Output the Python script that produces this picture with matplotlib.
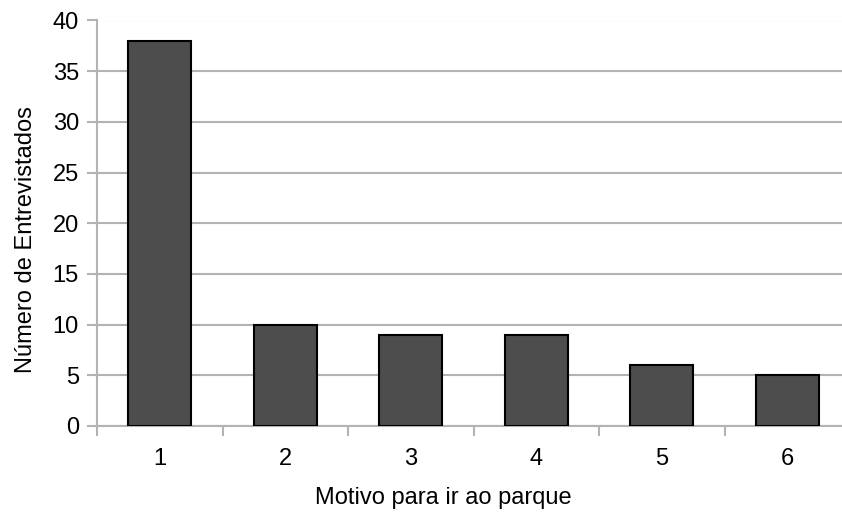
import matplotlib
matplotlib.use("Agg")
import matplotlib.pyplot as plt
import numpy as np

categories = ["1", "2", "3", "4", "5", "6"]
values = [38, 10, 9, 9, 6, 5]
y_ticks = [0, 5, 10, 15, 20, 25, 30, 35, 40]

plt.rcParams['font.family'] = ['Liberation Sans', 'DejaVu Sans']

fig = plt.figure(figsize=(8.42, 5.12), dpi=100)
ax = fig.add_axes([97/842, 86/512, 753/842, 405.5/512])

x = np.arange(len(categories))
ax.bar(x, values, width=0.5, color='#4d4d4d', edgecolor='black', linewidth=1.5, zorder=3)

fs = 17
ax.set_xlim(-0.5, len(categories) - 0.5)
ax.set_ylim(0, 40)
ax.set_yticks(y_ticks)
ax.set_yticklabels([str(t) for t in y_ticks], fontsize=fs)
ax.set_xticks(x)
ax.set_xticklabels(categories, fontsize=fs)
ax.set_xticks(np.arange(len(categories) + 1) - 0.5, minor=True)
ax.tick_params(axis='x', which='major', length=0, pad=16)
ax.tick_params(axis='x', which='minor', length=7, width=1.5, color='#b3b3b3')
ax.tick_params(axis='y', length=7, width=1.5, color='#b3b3b3', pad=6)

ax.grid(axis='y', color='#b3b3b3', linewidth=1.5, zorder=0)
for s in ['top', 'right']:
    ax.spines[s].set_visible(False)
for s in ['left', 'bottom']:
    ax.spines[s].set_color('#b3b3b3')
    ax.spines[s].set_linewidth(1.5)

ax.set_xlabel('Motivo para ir ao parque', fontsize=fs)
ax.set_ylabel('Número de Entrevistados', fontsize=fs)
ax.xaxis.set_label_coords(0.4595, -0.15)
ax.yaxis.set_label_coords(-0.08, 0.461)

fig.savefig('out.png', dpi=100)
